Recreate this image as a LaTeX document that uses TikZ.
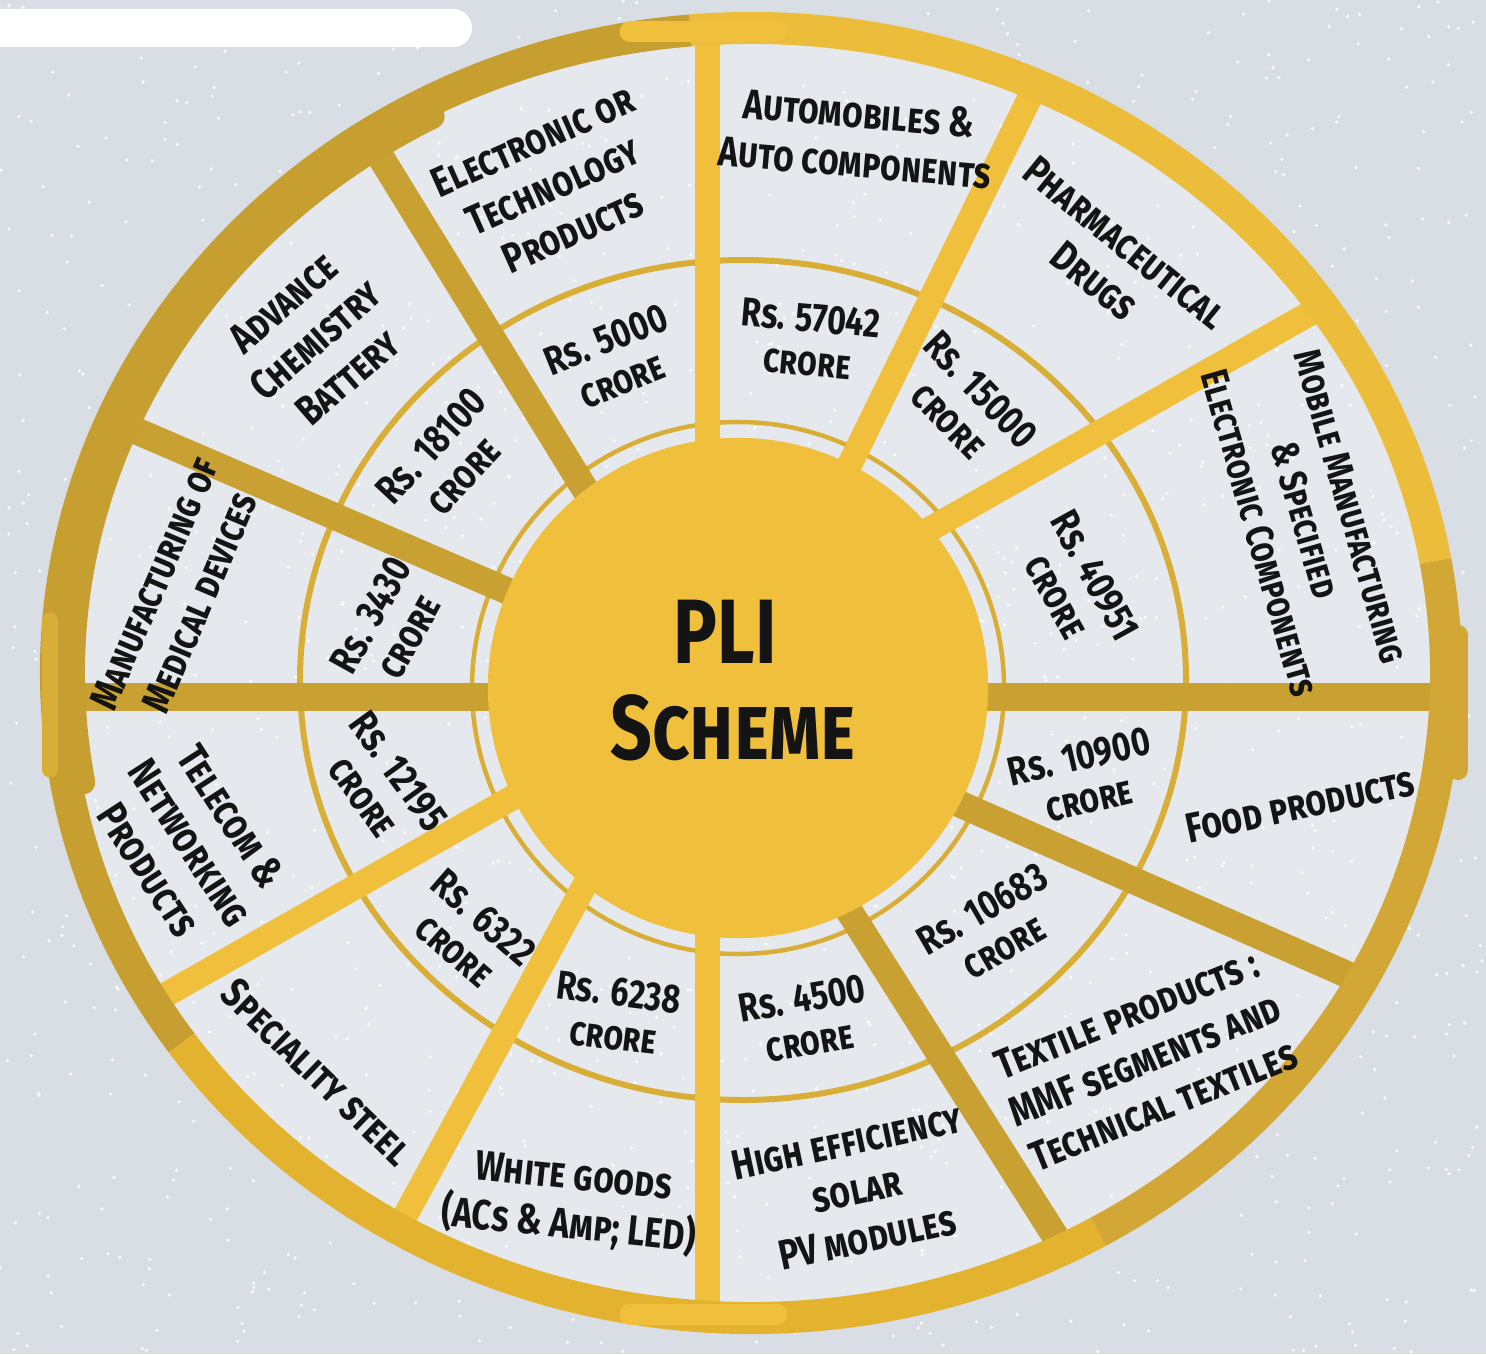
\documentclass[tikz,border=0pt]{standalone}
\usepackage{fontspec}
\setmainfont{Fira Sans}[FakeStretch=0.8]

\definecolor{goldY}{HTML}{F0BF3B}
\definecolor{goldD}{HTML}{C9A032}
\definecolor{goldM}{HTML}{D9AE36}
\definecolor{ringTop}{HTML}{ECBD3A}
\definecolor{ringLeft}{HTML}{C79E30}
\definecolor{ringBot}{HTML}{E3B32F}
\definecolor{ringRight}{HTML}{D3A735}
\definecolor{snow}{HTML}{D9DEE5}
\definecolor{snowIn}{HTML}{E5E9EE}
\definecolor{ink}{HTML}{141414}

\tikzset{
  spokeY/.style={line width=0.25cm, draw=goldY},
  spokeD/.style={line width=0.27cm, draw=goldD},
  sector/.style={font=\fontsize{12}{14}\selectfont\bfseries\scshape, text=ink, align=center, inner sep=0pt},
  amount/.style={font=\fontsize{11.5}{12.5}\selectfont\bfseries\scshape, text=ink, align=center, inner sep=0pt},
}

\begin{document}
\begin{tikzpicture}[x=0.01cm, y=0.01cm]
  \useasboundingbox (0,0) rectangle (1486,1354);

  % Background with glitter
  \fill[snow] (0,0) rectangle (1486,1354);
  \fill[snowIn] (751,681) ellipse [x radius=695, y radius=645];
  \pgfmathsetseed{11}
  \foreach \i in {1,...,1200} {
    \pgfmathsetmacro{\sx}{rnd*1486}
    \pgfmathsetmacro{\sy}{rnd*1354}
    \fill[white, opacity=0.85] (\sx,\sy) circle [radius=1.8];
  }
  \fill[white, rounded corners=0.19cm] (-30,1307) rectangle (472,1345);

  % Thin rings
  \draw[line width=0.06cm, draw=goldM] (743,674) ellipse [x radius=443, y radius=420];
  \draw[line width=0.045cm, draw=goldM] (738,666) circle [radius=266];

  % Spokes
  \draw[spokeY] (707,854) -- (707,1326);
  \draw[spokeY] (820,829) -- (1036,1269);
  \draw[spokeY] (900,808) -- (1323,1048);
  \draw[spokeD] (950,657) -- (1447,657);
  \draw[spokeD] (930,563) -- (1362,373);
  \draw[spokeD] (830,473) -- (1064,104);
  \draw[spokeY] (707,474) -- (707,36);
  \draw[spokeY] (600,497) -- (398,125);
  \draw[spokeY] (540,572) -- (153,352);
  \draw[spokeD] (520,657) -- (56,657);
  \draw[spokeD] (540,749) -- (111,934);
  \draw[spokeD] (610,824) -- (367,1219);

  % Outer ring
  \foreach \a/\b/\c in {10/95/ringTop, 95/215/ringLeft, 215/300/ringBot, 300/370/ringRight}
    \draw[line width=0.32cm, draw=\c] (751,681) ++(\a:695 and 645)
      arc[start angle=\a, end angle=\b, x radius=695, y radius=645];
  \draw[line width=0.24cm, draw=ringLeft, line cap=round] (751,681) ++(118:678 and 630)
    arc[start angle=118, end angle=190, x radius=678, y radius=630];
  \draw[line width=0.15cm, draw=goldM, line cap=round] (50,734) -- (50,584);
  \draw[line width=0.2cm, draw=ringRight, line cap=round] (1458,719) -- (1458,584);
  \draw[line width=0.21cm, draw=goldY, line cap=round] (630,1322) -- (777,1322);
  \draw[line width=0.21cm, draw=goldY, line cap=round] (630,40) -- (777,40);

  % Hub
  \node[circle, fill=goldY, minimum size=5cm, inner sep=0pt] (hub) at (738,666) {};
  \node[text=ink, font=\fontsize{26}{26}\selectfont\bfseries] (pli) at (725,722) {PLI};
  \node[text=ink, font=\fontsize{26}{26}\selectfont\bfseries\scshape] (scheme) at (733,626) {Scheme};

  % Sector names
  \node[sector, rotate=24] (elec) at (553,1168) {Electronic or\\Technology\\Products};
  \node[sector, rotate=-5] (auto) at (857,1216) {Automobiles \&\\Auto components};
  \node[sector, rotate=-39] (pharma) at (1110,1092) {Pharmaceutical\\Drugs};
  \node[sector, rotate=-74, font=\fontsize{11}{13.5}\selectfont\bfseries\scshape] (mobile) at (1305,834) {Mobile Manufacturing\\\& Specified\\Electronic Components};
  \node[sector, rotate=12] (food) at (1300,549) {Food products};
  \node[sector, rotate=22] (textile) at (1145,294) {Textile products :\\MMF segments and\\Technical textiles};
  \node[sector, rotate=12] (solar) at (857,164) {High efficiency\\solar\\PV modules};
  \node[sector, rotate=-6] (white) at (571,151) {White goods\\(ACs \& Amp; LED)};
  \node[sector, rotate=-44] (steel) at (317,282) {Speciality steel};
  \node[sector, rotate=-57] (telecom) at (190,511) {Telecom \&\\Networking\\Products};
  \node[sector, rotate=67, font=\fontsize{11.5}{14}\selectfont\bfseries\scshape] (medical) at (177,761) {Manufacturing of\\Medical devices};
  \node[sector, rotate=41] (battery) at (315,1014) {Advance\\Chemistry\\Battery};

  % Outlays
  \node[amount, rotate=22] (amtElec) at (614,994) {Rs. 5000\\crore};
  \node[amount, rotate=-5] (amtAuto) at (809,1014) {Rs. 57042\\crore};
  \node[amount, rotate=-46] (amtPharma) at (965,949) {Rs. 15000\\crore};
  \node[amount, rotate=-61] (amtMobile) at (1076,768) {Rs. 40951\\crore};
  \node[amount, rotate=13] (amtFood) at (1084,576) {Rs. 10900\\crore};
  \node[amount, rotate=30] (amtTextile) at (993,426) {Rs. 10683\\crore};
  \node[amount, rotate=10] (amtSolar) at (806,334) {Rs. 4500\\crore};
  \node[amount, rotate=-7] (amtWhite) at (616,340) {Rs. 6238\\crore};
  \node[amount, rotate=-41] (amtSteel) at (469,420) {Rs. 6322\\crore};
  \node[amount, rotate=-54] (amtTelecom) at (381,570) {Rs. 12195\\crore};
  \node[amount, rotate=61] (amtMedical) at (390,728) {Rs. 3430\\crore};
  \node[amount, rotate=47] (amtBattery) at (447,893) {Rs. 18100\\crore};
\end{tikzpicture}
\end{document}
